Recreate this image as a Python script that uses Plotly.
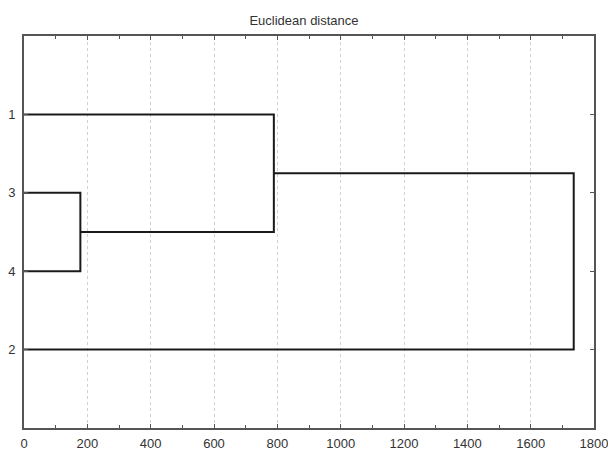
import plotly.graph_objects as go

# Leaf order (top to bottom) and labels
leaf_labels = ["1", "3", "4", "2"]
leaf_positions = [1, 2, 3, 4]
# Merges: (left cluster, right cluster, distance); clusters indexed as leaves 0..3 then new ones 4..
merges = [
    (1, 2, 178),    # 3 + 4
    (0, 4, 789),    # 1 + (3,4)
    (5, 3, 1736),   # (1,3,4) + 2
]
x_ticks = [0, 200, 400, 600, 800, 1000, 1200, 1400, 1600, 1800]

# Build dendrogram line coordinates
pos = {i: p for i, p in enumerate(leaf_positions)}
height = {i: 0 for i in range(len(leaf_positions))}
xs, ys = [], []
nid = len(leaf_positions)
for a, b, d in merges:
    xs += [height[a], d, d, height[b], None]
    ys += [pos[a], pos[a], pos[b], pos[b], None]
    pos[nid] = (pos[a] + pos[b]) / 2
    height[nid] = d
    nid += 1

fig = go.Figure()
fig.add_trace(go.Scatter(x=xs, y=ys, mode="lines",
                         line=dict(color="#1a1a1a", width=2),
                         hoverinfo="skip", showlegend=False))

axis_color = "#555555"
fig.update_layout(
    width=608, height=450,
    margin=dict(l=24, r=14, t=36, b=22, autoexpand=False),
    paper_bgcolor="white", plot_bgcolor="white",
    font=dict(family="Liberation Sans, Arial, sans-serif", size=13, color="#333333"),
    title=dict(text="Euclidean distance", x=0.5, xanchor="center", y=0.955, yanchor="middle",
               font=dict(size=13, color="#333333")),
    showlegend=False,
)
fig.update_xaxes(
    range=[0, 1800], tickvals=x_ticks, ticktext=[str(v) for v in x_ticks],
    ticks="inside", ticklen=4, tickcolor=axis_color, tickwidth=1,
    minor=dict(ticks="inside", ticklen=3, dtick=100, tickcolor=axis_color, showgrid=False),
    showline=True, linecolor=axis_color, linewidth=2, mirror="allticks",
    showgrid=True, gridcolor="#d0d0d0", griddash="dot", gridwidth=1,
    zeroline=False, automargin=False, ticklabelstandoff=2, ticklabeloverflow="allow",
)
fig.update_yaxes(
    range=[5, 0], tickvals=leaf_positions, ticktext=leaf_labels,
    ticks="inside", ticklen=4, tickcolor=axis_color, tickwidth=1,
    showline=True, linecolor=axis_color, linewidth=2, mirror="allticks",
    showgrid=False, zeroline=False, automargin=False, ticklabelstandoff=4,
    ticklabeloverflow="allow",
)

fig.write_html("out.html")
